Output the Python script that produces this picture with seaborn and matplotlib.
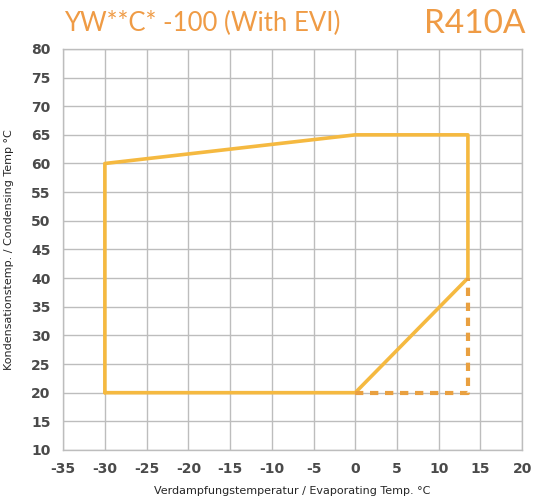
import numpy as np
import pandas as pd
import seaborn as sns
import matplotlib.pyplot as plt

# operating envelope (solid)
envelope_x = [-30, -30, 0, 13.5, 13.5, 0, -30]
envelope_y = [20, 60, 65, 65, 40, 20, 20]

# dashed extension
dashed_x = [0, 13.5, 13.5]
dashed_y = [20, 20, 40]

x_ticks = list(range(-35, 21, 5))
y_ticks = list(range(10, 81, 5))

sns.set_style("whitegrid")
plt.rcParams['font.family'] = ['DejaVu Sans']
plt.rcParams['axes.unicode_minus'] = False

fig = plt.figure(figsize=(5.35, 4.97), dpi=100)
ax = fig.add_axes([0.118, 0.0946, 0.858, 0.807])

env = pd.DataFrame({"x": envelope_x, "y": envelope_y})
dsh = pd.DataFrame({"x": dashed_x, "y": dashed_y})

sns.lineplot(data=env, x="x", y="y", sort=False, estimator=None,
             color="#F5B940", linewidth=2.6, ax=ax)
sns.lineplot(data=dsh, x="x", y="y", sort=False, estimator=None,
             color="#E9A040", linewidth=3, linestyle=(0, (2, 1.6)), ax=ax)

ax.set_xlim(-35, 20)
ax.set_ylim(10, 80)
ax.set_xticks(x_ticks)
ax.set_yticks(y_ticks)
ax.grid(True, color="#bdbdbd", linewidth=1)
for s in ax.spines.values():
    s.set_color("#bdbdbd")
    s.set_linewidth(1)
ax.tick_params(axis='both', length=0, labelsize=10, labelcolor="#4a4a4a", pad=9)
for lab in ax.get_xticklabels() + ax.get_yticklabels():
    lab.set_fontweight('bold')

ax.set_xlabel("Verdampfungstemperatur / Evaporating Temp. °C", fontsize=8, labelpad=7)
ax.set_ylabel("Kondensationstemp. / Condensing Temp °C", fontsize=8, labelpad=12)

fig.text(0.12, 0.952, "YW**C* -100 (With EVI)", color="#EF9B45", fontsize=18.5,
         family="Lato", va="center")
fig.text(0.982, 0.952, "R410A", color="#EF9B45", fontsize=24,
         family="Lato", va="center", ha="right")

fig.savefig("out.png", dpi=100)
